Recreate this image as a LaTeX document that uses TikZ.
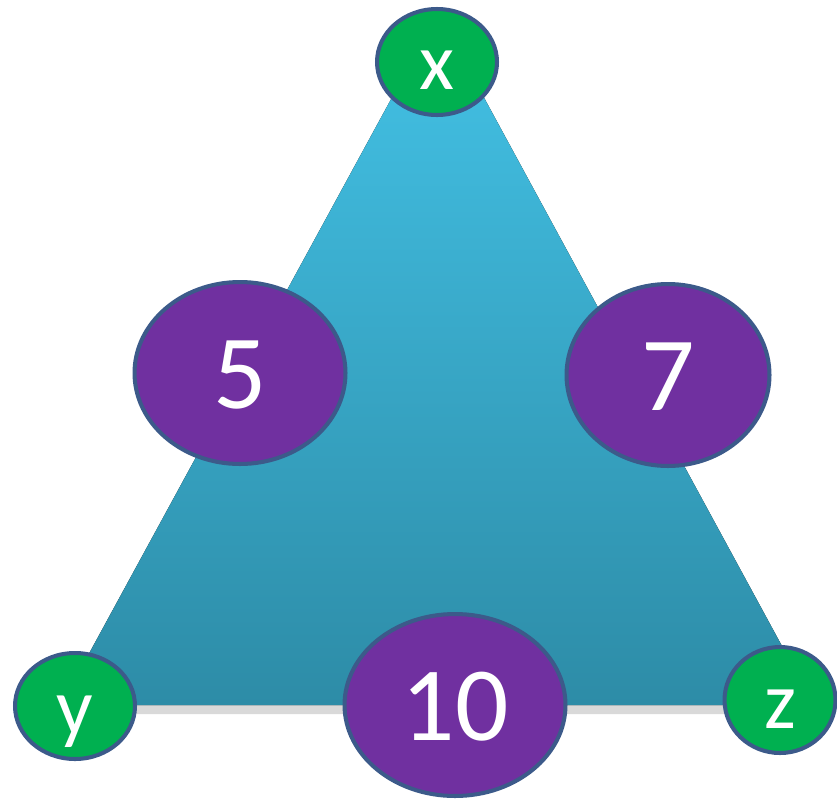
\documentclass[tikz,border=0pt]{standalone}
\usepackage{fontspec}
\setmainfont{Carlito}
\usetikzlibrary{shapes.geometric,shadows}
\definecolor{tritop}{HTML}{43C2E6}
\definecolor{tribottom}{HTML}{2D8CA7}
\definecolor{vgreen}{HTML}{00B050}
\definecolor{wpurple}{HTML}{7030A0}
\definecolor{rimblue}{HTML}{3C5A8A}
\begin{document}
\begin{tikzpicture}[
        x=0.02cm, y=-0.02cm,
        face/.style={top color=tritop, bottom color=tribottom, draw=none,
            drop shadow={shadow xshift=0pt, shadow yshift=-0.18cm, opacity=0.3}},
        every node/.style={draw=rimblue, line width=2.3pt, ellipse, inner sep=0pt,
            text=white, text depth=0pt},
        vertex/.style={fill=vgreen, minimum width=2.4cm, minimum height=2.12cm,
            text height=1.12cm, font=\fontsize{46}{46}\selectfont},
        weight/.style={fill=wpurple, minimum height=3.64cm,
            text height=1.4cm, font=\fontsize{60}{60}\selectfont},
    ]
    \useasboundingbox (0,0) rectangle (837,801);
    \coordinate (top) at (438,13);
    \coordinate (left) at (61,705);
    \coordinate (right) at (814,705);
    \fill[face] (top) -- (right) -- (left) -- cycle;

    \node[vertex](x) at (437,62){x};
    \node[vertex](y) at (75,706){y};
    \node[vertex, minimum width=2.22cm](z) at (780,700){z};

    \node[weight, minimum width=4.22cm](xy) at (240,373){5};
    \node[weight, minimum width=4.06cm](xz) at (668,375){7};
    \node[weight, minimum width=4.42cm](yz) at (455,705){10};
\end{tikzpicture}
\end{document}
